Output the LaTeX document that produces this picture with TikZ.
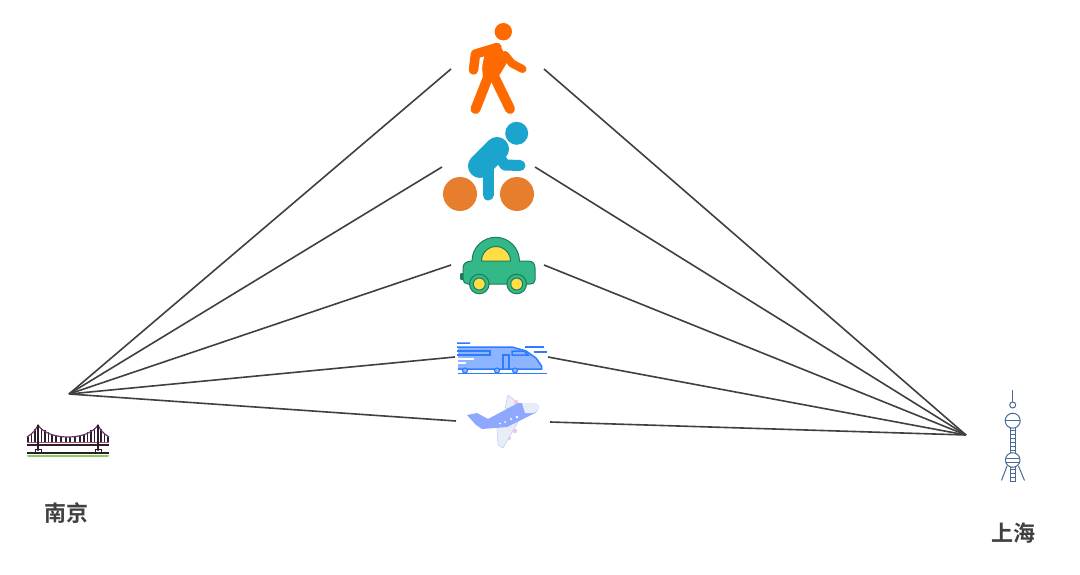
\documentclass[tikz,border=0pt]{standalone}
\usepackage{fontspec}
\newfontfamily\cjk{Noto Sans CJK SC}[BoldFont={Noto Sans CJK SC Bold}]
\definecolor{walk}{HTML}{FF6A00}
\definecolor{rider}{HTML}{1CA5CC}
\definecolor{wheel}{HTML}{E67E2E}
\definecolor{carg}{HTML}{33B888}
\definecolor{card}{HTML}{1F7A5C}
\definecolor{cary}{HTML}{FFDD44}
\definecolor{trainb}{HTML}{2F7BFF}
\definecolor{trainl}{HTML}{8DB4FF}
\definecolor{planeb}{HTML}{8FA8FF}
\definecolor{planew}{HTML}{E9EDF7}
\definecolor{planep}{HTML}{F3C6DC}
\definecolor{bridged}{HTML}{2B1D2B}
\definecolor{bridgec}{HTML}{6B3A6B}
\definecolor{bridger}{HTML}{B5506A}
\definecolor{bridgeg}{HTML}{8CCB5E}
\definecolor{towerb}{HTML}{4A6A94}
\definecolor{linec}{HTML}{404040}
\tikzset{
  route/.style={draw=linec,line width=1.6pt},
  city/.style={font=\cjk\bfseries\fontsize{22}{24}\selectfont,text=linec,inner sep=0pt},
  limb/.style={line cap=round,line join=round},
}
\begin{document}
\begin{tikzpicture}[x=1pt,y=-1pt]
\useasboundingbox (0,0) rectangle (1080,575);
\fill[white] (0,0) rectangle (1080,575);
% connector ends
\coordinate (nj) at (69,394);
\coordinate (sh) at (966,435);
\coordinate (wl) at (451,69);  \coordinate (wr) at (544,69);
\coordinate (bl) at (442,167); \coordinate (br) at (535,167);
\coordinate (cl) at (451,265); \coordinate (cr) at (544,265);
\coordinate (tl) at (455,357); \coordinate (tr) at (548,357);
\coordinate (pl) at (456,421); \coordinate (pr) at (550,422);
\foreach \a in {wl,bl,cl,tl,pl} \draw[route] (nj) -- (\a);
\foreach \a in {wr,br,cr,tr,pr} \draw[route] (sh) -- (\a);
% walker
\fill[walk] (503.3,31.7) circle (8.7);
\draw[walk,limb,line width=9.5pt] (473.5,70) -- (475.5,54) -- (497,47.5);
\fill[walk,rounded corners=2pt] (498,42.5) -- (508.5,60) -- (499,76) -- (483,78) -- (482,67) -- (485,53) -- cycle;
\draw[walk,limb,line width=10pt] (488.5,76) -- (475.5,109);
\draw[walk,limb,line width=10pt] (492,72) -- (510,109);
\draw[walk,limb,line width=8pt] (505,55) -- (512,63.5) -- (522.5,69);
% cyclist
\fill[wheel] (460,194) circle (17);
\fill[wheel] (517,194) circle (17);
\draw[rider,limb,line width=24pt] (497,149) -- (480,166);
\draw[rider,limb,line width=11pt] (488,168) -- (488,195);
\draw[rider,limb,line width=11pt] (500,158) -- (505,165) -- (520,165.5);
\fill[rider] (516.7,133.3) circle (11.5);
% car
\fill[card,rounded corners=1pt] (460,273) rectangle (466,280);
\fill[carg,draw=card,line width=1pt] (472,261) arc[start angle=180,end angle=360,radius=23.7] -- (528,261) .. controls (533,261) and (535,264) .. (535,268) -- (535,280) .. controls (535,283) and (533,284) .. (530,284) -- (468,284) .. controls (465,284) and (463,282) .. (463,279) -- (463,268) .. controls (463,264) and (466,261) .. (472,261) -- cycle;
\fill[cary,draw=card,line width=1pt] (481.5,261) arc[start angle=180,end angle=360,radius=14.5] -- cycle;
\foreach \x in {479.3,516.7}{
  \fill[carg,draw=card,line width=1pt] (\x,284) circle (9.8);
  \fill[cary,draw=card,line width=1pt] (\x,284) circle (6);
}
% train
\fill[trainl] (458,347) -- (512,347) -- (526,351) -- (536,358) -- (541.5,366) -- (541.5,369) -- (458,369) -- cycle;
\draw[trainb,line width=1.5pt] (457,343) -- (470,343) (457,347) -- (512,347) -- (526,351) -- (536,358) -- (541.5,366) -- (541.5,369) -- (458,369);
\draw[trainb,line width=1.5pt] (457,351) -- (490,351) -- (490,355) -- (457,355);
\draw[white,line width=1.2pt] (458,359) -- (474,359) (458,363) -- (466,363);
\draw[trainb,line width=1.5pt] (503,369) -- (503,355) -- (509,355) -- (509,369);
\draw[trainb,line width=1.5pt] (512,351) -- (524,351) -- (528,355) -- (512,355) -- cycle;
\draw[trainb,line width=1.5pt] (458,373.5) -- (547,373.5);
\draw[trainb,line width=1.2pt] (525,347) -- (544,347) (534,352) -- (547,352);
\foreach \x in {465,497,515}\draw[trainb,fill=trainl,line width=1.1pt] (\x,370.5) circle (2.5);
% plane
\fill[planew,draw=planeb!40!planew,line width=.6pt] (505,408) -- (508,395) -- (518,403) -- (512,410) -- cycle;
\fill[planep] (516,402) circle (2.2);
\fill[planep] (515,431) circle (2.2);
\fill[planep] (509,438) circle (2.2);
\fill[planew,draw=planeb!40!planew,line width=.6pt] (497,428) -- (498,445) -- (503,448) -- (518,422) -- cycle;
\fill[planeb] (467,415) -- (477,413) -- (488,419) -- (518,403) -- (533,403) .. controls (537,404) and (539,405) .. (539,407) .. controls (538,410) and (537,412) .. (535,413) -- (507,427) -- (482,429) -- (476,425) -- cycle;
\fill[planew] (522,403) -- (533,403) .. controls (537,404) and (539,405) .. (539,407) .. controls (538,410) and (537,412) .. (533,413) -- (525,413) -- cycle;
\fill[white] (500,423.5) circle (1);
\fill[white] (505,422) circle (1);
\fill[white] (511,419) circle (1.2);
\fill[white] (517,417) circle (1.3);
% bridge
\draw[bridgeg,line width=2pt,line cap=round] (28,455.5) -- (108,455.5);
\draw[bridged,line width=1.3pt] (27,453) -- (109,453);
\foreach \x in {41.5,45,48.5,52,56,61,66,70,75,80,84,87.5,91,94.5}{
  \pgfmathsetmacro{\yc}{425+12*(1-((\x-68)/30)^2)}
  \draw[bridged,line width=1.3pt] (\x,442) -- (\x,\yc);
}
\foreach \x/\d in {28/10,31.5/6.5,35/3,101/3,104.5/6.5,108/10}{
  \draw[bridged,line width=1.3pt] (\x,442) -- (\x,{425+1.2*\d});
}
\draw[bridgec,line width=1.2pt] (27,437) .. controls (32,434) and (36,430) .. (38,425);
\draw[bridgec,line width=1.2pt] (38,425) .. controls (48,441) and (88,441) .. (98,425);
\draw[bridgec,line width=1.2pt] (98,425) .. controls (100,430) and (104,434) .. (109,437);
\draw[bridger,line width=1.3pt] (27,442.5) -- (109,442.5);
\draw[bridged,line width=1.3pt] (27,445) -- (109,445);
\draw[bridged,line width=2.2pt,line cap=round] (38,425.5) -- (38,450) (98,425.5) -- (98,450);
\draw[bridged,line width=1pt] (35,452) -- (35,449) -- (41,449) -- (41,452) (95,452) -- (95,449) -- (101,449) -- (101,452);
% tower
\draw[towerb,line width=1pt] (1012.7,390) -- (1012.7,402);
\draw[towerb,line width=1pt,fill=white] (1012.7,405) circle (3);
\draw[towerb,line width=1pt] (1010,427) -- (1010,481) (1015.5,427) -- (1015.5,481);
\foreach \y in {430,434,438,442,446,450,454,469,473,477,481}\draw[towerb,line width=.8pt] (1010,\y) -- (1015.5,\y);
\draw[towerb,line width=1pt] (1007,466) -- (1001.5,480.5) (1018.5,466) -- (1024.5,480.5);
\draw[towerb,line width=1pt,fill=white] (1012.7,420.7) circle (7.5);
\draw[towerb,line width=.8pt] (1005.5,420) -- (1020,420);
\draw[towerb,line width=1pt,fill=white] (1012.7,460) circle (7.3);
\draw[towerb,line width=.8pt] (1005.7,458) -- (1019.7,458) (1005.7,462) -- (1019.7,462);
% labels
\node[city] (nanjing) at (66,513) {南京};
\node[city] (shanghai) at (1013,533) {上海};
\end{tikzpicture}
\end{document}
